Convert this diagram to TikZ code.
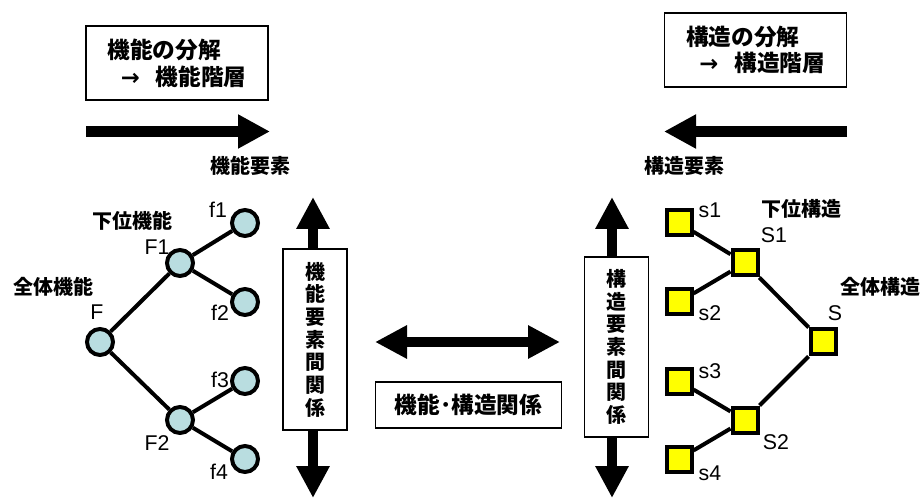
\documentclass[tikz,border=0pt]{standalone}
\usepackage{fontspec}
\setmainfont{Liberation Sans}
\newfontfamily\cjk{Noto Sans CJK JP}
\newfontfamily\dejavu{DejaVu Sans}
\usetikzlibrary{arrows.meta,backgrounds}
\definecolor{circfill}{HTML}{B9DDE0}
\definecolor{sqfill}{HTML}{FFFF00}
\tikzset{
  x=0.75pt, y=-0.75pt,
  cjklabel/.style={font=\cjk\bfseries\fontsize{15pt}{17pt}\selectfont, inner sep=0pt},
  latlabel/.style={font=\fontsize{16pt}{18pt}\selectfont, inner sep=0pt},
  fnode/.style={circle, draw=black, line width=3pt, fill=circfill, minimum size=19.5pt, inner sep=0pt},
  snode/.style={rectangle, draw=black, line width=3pt, fill=sqfill, minimum size=18.75pt, inner sep=0pt},
  edge/.style={line width=3pt},
  titlebox/.style={draw=black, line width=0.8pt, fill=white, align=left, inner xsep=14pt,
    font=\cjk\bfseries\fontsize{17pt}{20pt}\selectfont, minimum width=136.5pt, minimum height=55.5pt, anchor=center},
  vbox/.style={draw=black, line width=0.8pt, fill=white, align=center, inner sep=0pt,
    font=\cjk\bfseries\fontsize{15pt}{17pt}\selectfont, minimum width=48pt},
  blockarrow/.style={line width=8.5pt, -{Triangle[length=24pt, width=24pt]}},
  blockarrows/.style={line width=8pt, {Triangle[length=24pt, width=23.5pt]}-{Triangle[length=24pt, width=23.5pt]}},
}
\newcommand{\myarrow}{{\dejavu\fontsize{17pt}{20pt}\selectfont →}}
\begin{document}
\begin{tikzpicture}
\useasboundingbox (0,0) rectangle (923,498);

% title boxes
\node[titlebox] (tbl) at (177,63) {機能の分解\\\hspace*{10pt}\myarrow\hspace{12pt}機能階層};
\node[titlebox] (tbr) at (755.5,50) {構造の分解\\\hspace*{10pt}\myarrow\hspace{12pt}構造階層};

% top arrows
\coordinate (al1) at (86,131.5);
\coordinate (al2) at (270,131.5);
\coordinate (ar1) at (847,131.5);
\coordinate (ar2) at (664,131.5);
\draw[blockarrow] (al1) -- (al2);
\draw[blockarrow] (ar1) -- (ar2);

\node[cjklabel] (kyo) at (250,166) {機能要素};
\node[cjklabel] (kzo) at (684,166) {構造要素};

% vertical arrows with boxes
\coordinate (lv1) at (313,197);
\coordinate (lv2) at (313,498);
\coordinate (rv1) at (612,197);
\coordinate (rv2) at (612,498);
\draw[blockarrows] (lv1) -- (lv2);
\draw[blockarrows] (rv1) -- (rv2);
\node[vbox, minimum height=135.75pt] (lbox) at (315,339.5) {機\\能\\要\\素\\間\\関\\係};
\node[vbox, minimum height=135pt] (rbox) at (616.5,347) {構\\造\\要\\素\\間\\関\\係};

% center arrow and box
\coordinate (c1) at (375,342);
\coordinate (c2) at (560,342);
\draw[blockarrows] (c1) -- (c2);
\node[draw=black, line width=0.8pt, minimum width=140pt, minimum height=34.5pt, font=\cjk\bfseries\fontsize{17pt}{19pt}\selectfont, inner sep=0pt] (cbox) at (468.5,405) {機能･構造関係};

% left tree
\node[fnode] (F) at (100,342) {};
\node[fnode] (F1) at (180,263) {};
\node[fnode] (F2) at (180,420) {};
\node[fnode] (f1) at (245,223) {};
\node[fnode] (f2) at (245,302) {};
\node[fnode] (f3) at (245,381) {};
\node[fnode] (f4) at (245,459) {};
\begin{pgfonlayer}{background}
\draw[edge] (F) -- (F1) (F) -- (F2) (F1) -- (f1) (F1) -- (f2) (F2) -- (f3) (F2) -- (f4);
\end{pgfonlayer}
\node[latlabel] (lF) at (97,312) {F};
\node[latlabel] (lF1) at (157,247) {F1};
\node[latlabel] (lF2) at (157,443) {F2};
\node[latlabel] (lf1) at (218,210) {f1};
\node[latlabel] (lf2) at (220,313) {f2};
\node[latlabel] (lf3) at (220,380) {f3};
\node[latlabel] (lf4) at (219,472) {f4};
\node[cjklabel] (kaif) at (132,221) {下位機能};
\node[cjklabel] (zenf) at (53,287) {全体機能};

% right tree
\node[snode] (S) at (823,342) {};
\node[snode] (S1) at (745,263) {};
\node[snode] (S2) at (745,420) {};
\node[snode] (s1) at (679,223) {};
\node[snode] (s2) at (679,302) {};
\node[snode] (s3) at (679,381) {};
\node[snode] (s4) at (679,459) {};
\begin{pgfonlayer}{background}
\draw[edge] (S) -- (S1) (S) -- (S2) (S1) -- (s1) (S1) -- (s2) (S2) -- (s3) (S2) -- (s4);
\end{pgfonlayer}
\node[latlabel] (lS) at (835,313) {S};
\node[latlabel] (lS1) at (774,235) {S1};
\node[latlabel] (lS2) at (776,442) {S2};
\node[latlabel] (ls1) at (710,210) {s1};
\node[latlabel] (ls2) at (710,313) {s2};
\node[latlabel] (ls3) at (710,371) {s3};
\node[latlabel] (ls4) at (710,473) {s4};
\node[cjklabel] (kais) at (801,209) {下位構造};
\node[cjklabel, anchor=west] (zens) at (840,287) {全体構造};
\end{tikzpicture}
\end{document}
